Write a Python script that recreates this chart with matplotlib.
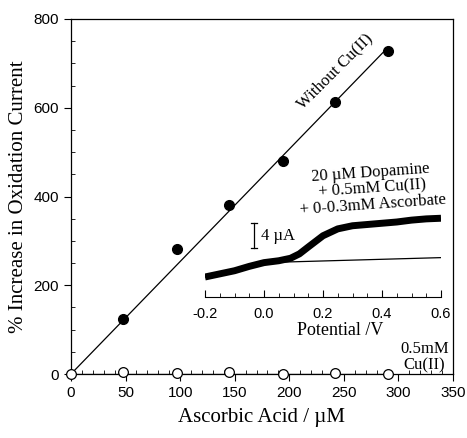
import matplotlib
matplotlib.use("Agg")
import matplotlib.pyplot as plt
from matplotlib.ticker import MultipleLocator

# Main data
asc = [0, 48, 97, 145, 194, 242, 290]
without_cu = [None, 125, 282, 380, 479, 612, 728]
with_cu = [0, 5, 2, 5, 1, 3, 0]
fit_x = [0, 290]
fit_without = [0, 735]
fit_with = [0, 0]

# Inset data (potential in V, current in uA)
pot = [-0.2, -0.15, -0.1, -0.05, 0.0, 0.05, 0.09, 0.12, 0.15, 0.2, 0.25, 0.3, 0.35, 0.4, 0.45, 0.5, 0.55, 0.6]
cur_asc = [3.2, 3.7, 4.2, 4.9, 5.5, 5.8, 6.2, 6.9, 8.0, 9.8, 10.9, 11.4, 11.6, 11.8, 12.0, 12.3, 12.5, 12.6]
pot_base = [-0.2, -0.15, -0.1, -0.05, 0.0, 0.6]
cur_base = [3.2, 3.7, 4.2, 4.9, 5.5, 6.3]

serif = "Liberation Serif"
sans = "Liberation Sans"

fig = plt.figure(figsize=(4.67, 4.38), dpi=100)
ax = fig.add_axes([71/467, 1-374/438, (453-71)/467, (374-19)/438])

ax.plot(fit_x, fit_without, color="black", lw=0.9)
ax.plot(fit_x, fit_with, color="black", lw=0.9)
ax.plot(asc[1:], without_cu[1:], "o", color="black", ms=7, clip_on=False)
ax.plot(asc, with_cu, "o", mfc="white", mec="black", mew=0.9, ms=7, clip_on=False, zorder=5)

ax.set_xlim(0, 350)
ax.set_ylim(0, 800)
ax.xaxis.set_major_locator(MultipleLocator(50))
ax.xaxis.set_minor_locator(MultipleLocator(10))
ax.yaxis.set_major_locator(MultipleLocator(200))
ax.yaxis.set_minor_locator(MultipleLocator(50))
ax.tick_params(which="major", direction="out", length=5, width=0.8, labelsize=11)
ax.tick_params(which="minor", direction="in", length=3, width=0.6)
for lab in ax.get_xticklabels() + ax.get_yticklabels():
    lab.set_fontfamily(sans)
for s in ax.spines.values():
    s.set_linewidth(0.9)

ax.set_xlabel("Ascorbic Acid / µM", fontfamily=serif, fontsize=15, labelpad=6)
ax.set_ylabel("% Increase in Oxidation Current", fontfamily=serif, fontsize=15, labelpad=4)

ax.text(242, 681, "Without Cu(II)", rotation=45, fontfamily=serif, fontsize=12,
        ha="center", va="center", rotation_mode="anchor")
ax.text(324, 38, "0.5mM\nCu(II)", fontfamily=serif, fontsize=12, ha="center", va="center",
        linespacing=1.0)

# Inset
ins = fig.add_axes([205/467, 1-297/438, (441-205)/467, (297-200)/438])
ins.patch.set_alpha(0)
ins.plot(pot, cur_asc, color="black", lw=5, solid_capstyle="butt")
ins.plot(pot_base, cur_base, color="black", lw=0.9)
ins.set_xlim(-0.2, 0.6)
ins.set_ylim(0, (297-200)/6.25)
for side in ["top", "left", "right"]:
    ins.spines[side].set_visible(False)
ins.yaxis.set_visible(False)
ins.xaxis.set_major_locator(MultipleLocator(0.2))
ins.xaxis.set_minor_locator(MultipleLocator(0.05))
ins.tick_params(which="major", direction="in", length=5, width=0.8, labelsize=10.5, pad=7)
ins.tick_params(which="minor", direction="in", length=3, width=0.6)
ins.set_xticks([-0.2, 0.0, 0.2, 0.4, 0.6])
ins.set_xticklabels(["-0.2", "0.0", "0.2", "0.4", "0.6"], fontfamily=sans)
ins.set_xlabel("Potential /V", fontfamily=serif, fontsize=13, labelpad=1)
ins.xaxis.label.set_x((340 - 205) / 236)

# 4 uA scale bar
ins.plot([-0.034, -0.034], [7.84, 11.84], color="black", lw=0.9)
ins.plot([-0.044, -0.024], [7.84, 7.84], color="black", lw=0.9)
ins.plot([-0.044, -0.024], [11.84, 11.84], color="black", lw=0.9)
ins.text(-0.01, 9.8, "4 µA", fontfamily=serif, fontsize=12, ha="left", va="center")

ins.text(0.366, 17.3, "20 µM Dopamine\n+ 0.5mM Cu(II)\n+ 0-0.3mM Ascorbate", fontfamily=serif,
         fontsize=12, ha="center", va="center", rotation=4, linespacing=1.0)

fig.savefig("out.png", dpi=100)
